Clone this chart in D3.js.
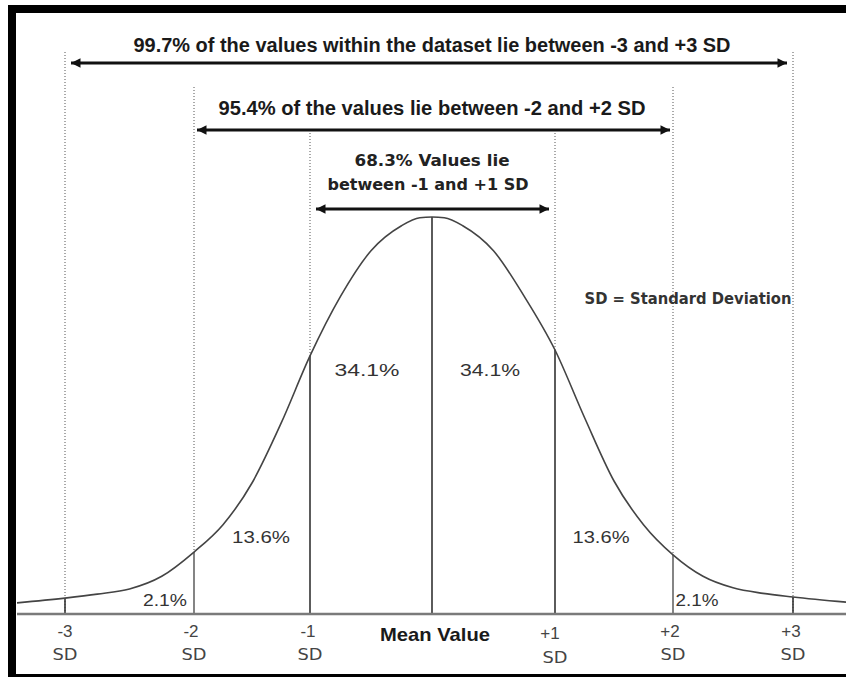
<!DOCTYPE html>
<html>
<head>
<meta charset="utf-8">
<script src="https://cdn.jsdelivr.net/npm/d3@7/dist/d3.min.js"></script>
<style>
  html, body { margin: 0; padding: 0; background: #fff; }
  svg { display: block; }
</style>
</head>
<body>
<svg id="chart" width="846" height="677"></svg>
<script>
// ---------- DATA ----------
const sdTicks = [-3, -2, -1, 0, 1, 2, 3];
const tickTop = ["-3", "-2", "-1", "Mean Value", "+1", "+2", "+3"];
const tickBottom = ["SD", "SD", "SD", "", "SD", "SD", "SD"];

// bell curve: position in SD units and relative height (peak = 1)
const curveSD = [-3.37, -3, -2.75, -2.5, -2.25, -2, -1.75, -1.5, -1.25, -1, -0.75, -0.5, -0.25, -0.1, 0,
                 0.1, 0.25, 0.5, 0.75, 1, 1.25, 1.5, 1.75, 2, 2.25, 2.5, 2.75, 3, 3.44];
const curveH = [0.028, 0.040, 0.050, 0.063, 0.095, 0.156, 0.225, 0.330, 0.480, 0.650, 0.800, 0.915, 0.978, 0.998, 1.0,
                0.998, 0.978, 0.915, 0.800, 0.665, 0.495, 0.335, 0.225, 0.149, 0.095, 0.066, 0.052, 0.043, 0.030];

// area percentages
const areaLabel = ["2.1%", "13.6%", "34.1%", "34.1%", "13.6%", "2.1%"];

// range annotations
const rangeSD = [3, 2, 1];
const rangeText = [
  ["99.7% of the values within the dataset lie between -3 and +3 SD"],
  ["95.4% of the values lie between -2 and +2 SD"],
  ["68.3% Values lie", "between -1 and +1 SD"]
];
const legendText = "SD = Standard Deviation";

// ---------- LAYOUT ----------
const svg = d3.select("#chart");
const x = d3.scaleLinear()
  .domain([-3.37, -3, -2, -1, 0, 1, 2, 3, 3.44])
  .range([17, 65, 194, 310, 432, 555, 673, 793, 846]);
const y = d3.scaleLinear().domain([0, 1]).range([614, 217]);

const hAt = sd => curveH[curveSD.indexOf(sd)];

// frame
svg.append("rect").attr("x", 8).attr("y", 5).attr("width", 838).attr("height", 8).attr("fill", "#000");
svg.append("rect").attr("x", 8).attr("y", 5).attr("width", 8).attr("height", 672).attr("fill", "#000");
svg.append("rect").attr("x", 8).attr("y", 674).attr("width", 838).attr("height", 3).attr("fill", "#000");

// arrow marker
const defs = svg.append("defs");
defs.append("marker").attr("id", "ah").attr("viewBox", "0 0 10 10")
  .attr("refX", 10).attr("refY", 5).attr("markerWidth", 4.2).attr("markerHeight", 3.4)
  .attr("markerUnits", "strokeWidth").attr("orient", "auto-start-reverse")
  .append("path").attr("d", "M0,0 L10,5 L0,10 Z").attr("fill", "#111");

// dotted guide lines above the curve
const dottedTop = {3: 52, 2: 87, 1: 133};
sdTicks.filter(d => d !== 0).forEach(d => {
  const a = Math.abs(d);
  const yEnd = a === 3 ? y(0) : y(hAt(d));
  svg.append("line")
    .attr("x1", x(d)).attr("x2", x(d))
    .attr("y1", dottedTop[a]).attr("y2", yEnd)
    .attr("stroke", "#555").attr("stroke-width", 1)
    .attr("stroke-dasharray", "1,2");
});

// solid lines from baseline to curve
sdTicks.forEach(d => {
  svg.append("line")
    .attr("x1", x(d)).attr("x2", x(d))
    .attr("y1", y(0)).attr("y2", y(hAt(d)))
    .attr("stroke", Math.abs(d) === 2 ? "#666" : "#333").attr("stroke-width", 1.6);
});

// baseline
svg.append("line").attr("x1", 17).attr("x2", 846).attr("y1", y(0)).attr("y2", y(0))
  .attr("stroke", "#7a7a7a").attr("stroke-width", 2.5);

// curve
const line = d3.line().x((d, i) => x(curveSD[i])).y((d, i) => y(curveH[i])).curve(d3.curveMonotoneX);
svg.append("path").datum(curveSD).attr("d", line)
  .attr("fill", "none").attr("stroke", "#444").attr("stroke-width", 1.6);

// range arrows
const arrowY = [63, 130, 209];
const arrowInset = [6, 3, 6];
rangeSD.forEach((s, i) => {
  svg.append("line")
    .attr("x1", x(-s) + arrowInset[i]).attr("x2", x(s) - arrowInset[i])
    .attr("y1", arrowY[i]).attr("y2", arrowY[i])
    .attr("stroke", "#111").attr("stroke-width", 2.8)
    .attr("marker-start", "url(#ah)").attr("marker-end", "url(#ah)");
});

function fitText(sel, len) {
  sel.attr("textLength", len).attr("lengthAdjust", "spacingAndGlyphs");
  return sel;
}

// range texts
const narrow = "'Liberation Sans Narrow', 'Liberation Sans', Arial, sans-serif";
const wideBold = "'DejaVu Sans', Verdana, sans-serif";
fitText(svg.append("text").attr("x", 432).attr("y", 52).attr("text-anchor", "middle")
  .attr("font-family", narrow).attr("font-weight", "bold").attr("font-size", 19.5).attr("fill", "#1a1a1a")
  .text(rangeText[0][0]), 597);
fitText(svg.append("text").attr("x", 432).attr("y", 115).attr("text-anchor", "middle")
  .attr("font-family", narrow).attr("font-weight", "bold").attr("font-size", 19.5).attr("fill", "#1a1a1a")
  .text(rangeText[1][0]), 427);
fitText(svg.append("text").attr("x", 432).attr("y", 166).attr("text-anchor", "middle")
  .attr("font-family", wideBold).attr("font-weight", "bold").attr("font-size", 16).attr("fill", "#222")
  .text(rangeText[2][0]), 155);
fitText(svg.append("text").attr("x", 428).attr("y", 190).attr("text-anchor", "middle")
  .attr("font-family", wideBold).attr("font-weight", "bold").attr("font-size", 16).attr("fill", "#222")
  .text(rangeText[2][1]), 201);

// legend
fitText(svg.append("text").attr("x", 688).attr("y", 304).attr("text-anchor", "middle")
  .attr("font-family", wideBold).attr("font-weight", "bold").attr("font-size", 16).attr("fill", "#333")
  .text(legendText), 207);

// area labels
const areaX = [165, 261, 367, 490, 601, 697];
const areaY = [606, 543, 376, 376, 543, 606];
const areaW = [44, 58, 65, 60, 57, 43];
areaLabel.forEach((t, i) => {
  fitText(svg.append("text").attr("x", areaX[i]).attr("y", areaY[i]).attr("text-anchor", "middle")
    .attr("font-family", "'Liberation Sans', Arial, sans-serif").attr("font-size", 17).attr("fill", "#333")
    .text(t), areaW[i]);
});

// axis labels
const labTopDx = [0, -3, -2, 3, -5, -3, -2];
const labTopY = [637, 637, 637, 641, 639, 637, 637];
const labBotY = [660, 660, 660, 660, 663, 660, 660];
sdTicks.forEach((d, i) => {
  const isMean = d === 0;
  const t = svg.append("text").attr("x", x(d) + labTopDx[i]).attr("y", labTopY[i]).attr("text-anchor", "middle")
    .attr("font-family", isMean ? narrow : "'Liberation Sans', Arial, sans-serif")
    .attr("font-weight", isMean ? "bold" : "normal")
    .attr("font-size", isMean ? 19 : 17).attr("fill", isMean ? "#1a1a1a" : "#444")
    .text(tickTop[i]);
  if (isMean) fitText(t, 110);
  if (tickBottom[i]) {
    fitText(svg.append("text").attr("x", x(d)).attr("y", labBotY[i]).attr("text-anchor", "middle")
      .attr("font-family", "'DejaVu Sans', Verdana, sans-serif")
      .attr("font-size", 16).attr("fill", "#444")
      .text(tickBottom[i]), 25);
  }
});
</script>
</body>
</html>
